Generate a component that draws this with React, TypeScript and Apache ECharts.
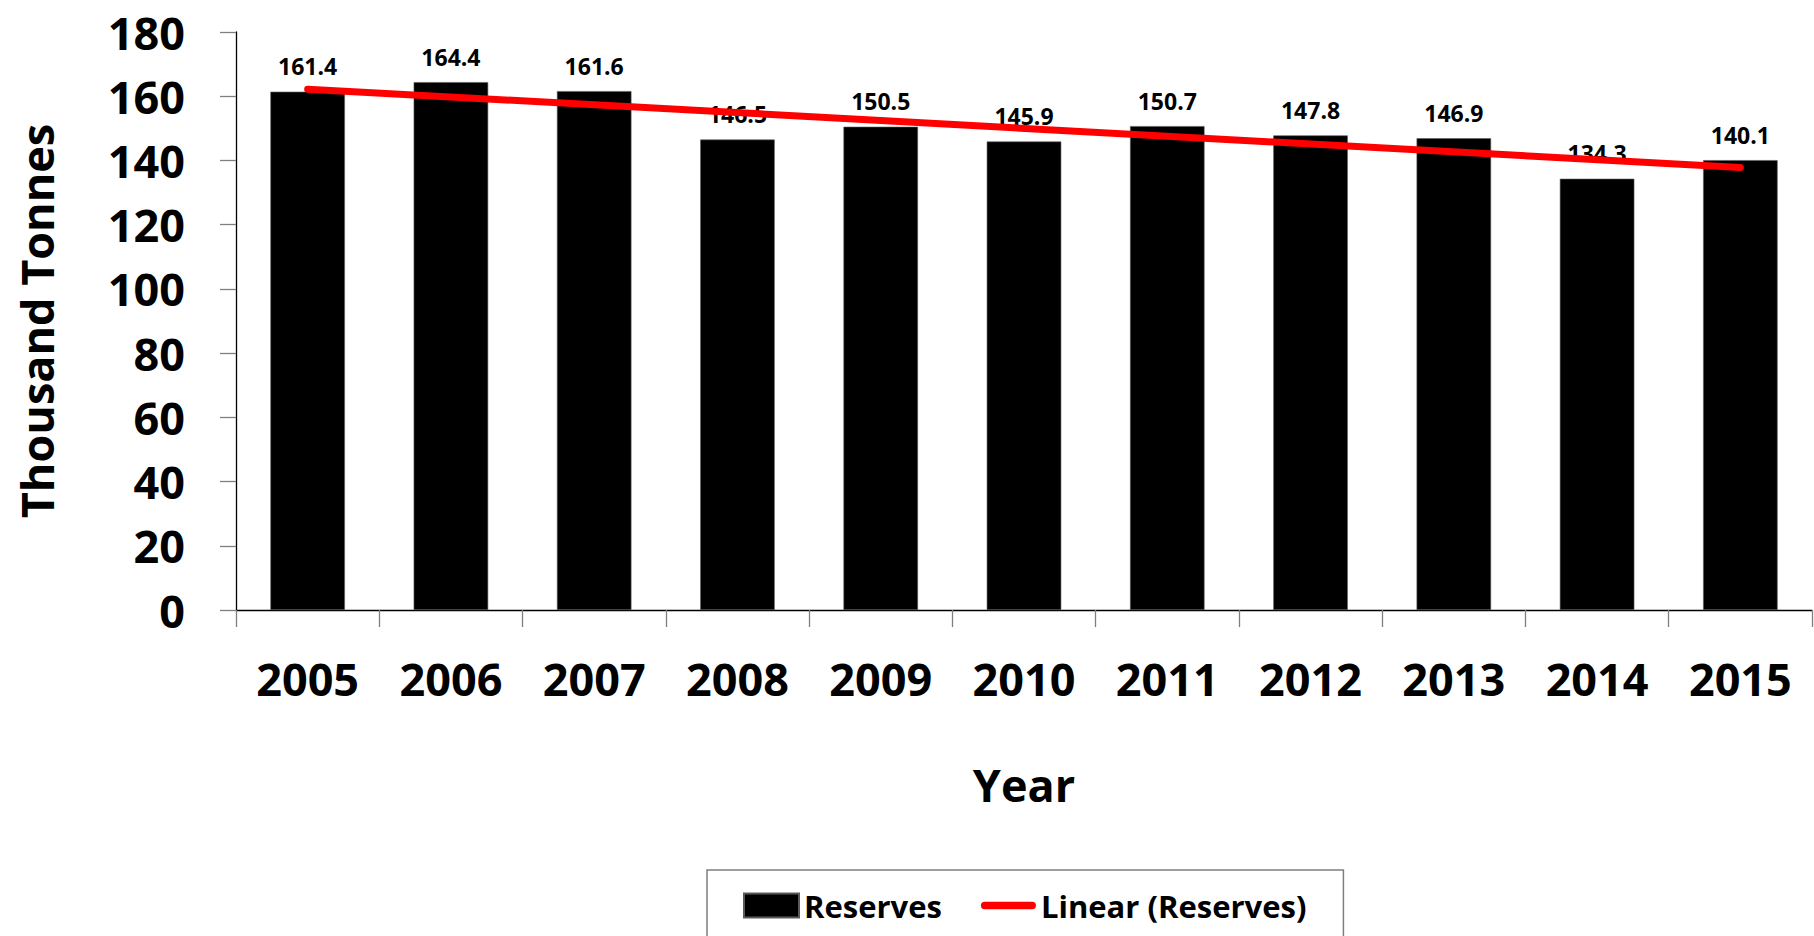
import React, { useEffect, useRef } from "react";
import * as echarts from "echarts";

const years = ["2005", "2006", "2007", "2008", "2009", "2010", "2011", "2012", "2013", "2014", "2015"];
const reserves = [161.4, 164.4, 161.6, 146.5, 150.5, 145.9, 150.7, 147.8, 146.9, 134.3, 140.1];
// Trendline end points (first and last year)
const trendStart = 162.2;
const trendEnd = 137.8;
const yTicks = { min: 0, max: 180, interval: 20 };

const FONT = "'Open Sans', 'Noto Sans', sans-serif";

export default function App() {
  const ref = useRef<HTMLDivElement>(null);

  useEffect(() => {
    if (!ref.current) return;
    const chart = echarts.init(ref.current, null, { renderer: "svg" });
    const trend = years.map((_, i) => (i === 0 ? trendStart : i === years.length - 1 ? trendEnd : null));

    chart.setOption({
      animation: false,
      backgroundColor: "#ffffff",
      textStyle: { fontFamily: FONT, fontWeight: "bold", color: "#000" },
      grid: { left: 236, right: 2, top: 32, bottom: 326, outerBoundsMode: "none" },
      legend: {
        left: 707,
        top: 870,
        orient: "horizontal",
        padding: [20, 37, 40, 36],
        borderColor: "#7f7f7f",
        borderWidth: 1.5,
        itemWidth: 55,
        itemHeight: 24,
        itemGap: 39,
        textStyle: { fontFamily: FONT, fontWeight: "bold", fontSize: 31, color: "#000" },
        data: [
          { name: "Reserves", icon: "rect" },
          {
            name: "Linear (Reserves)",
            icon: "path://M4,0L55,0A4,4,0,0,1,55,8L4,8A4,4,0,0,1,4,0Z",
            itemStyle: { color: "#ff0000" },
          },
        ],
      },
      xAxis: {
        type: "category",
        data: years,
        name: "Year",
        nameLocation: "middle",
        nameGap: 152,
        nameTextStyle: { fontFamily: FONT, fontWeight: "bold", fontSize: 45, color: "#000" },
        axisLine: { show: true, lineStyle: { color: "#000", width: 1.3 } },
        axisTick: { show: true, length: 17, lineStyle: { color: "#7f7f7f", width: 1.3 } },
        axisLabel: { margin: 46, fontFamily: FONT, fontWeight: "bold", fontSize: 45, color: "#000", interval: 0 },
        splitLine: { show: false },
      },
      yAxis: {
        type: "value",
        min: yTicks.min,
        max: yTicks.max,
        interval: yTicks.interval,
        name: "Thousand Tonnes",
        nameLocation: "middle",
        nameGap: 177,
        nameRotate: 90,
        nameTextStyle: { fontFamily: FONT, fontWeight: "bold", fontSize: 45, color: "#000" },
        axisLine: { show: true, lineStyle: { color: "#000", width: 1.3 } },
        axisTick: { show: true, length: 16, lineStyle: { color: "#7f7f7f", width: 1.3 } },
        axisLabel: { margin: 51, fontFamily: FONT, fontWeight: "bold", fontSize: 45, color: "#000" },
        splitLine: { show: false },
      },
      series: [
        {
          name: "Reserves",
          type: "bar",
          data: reserves,
          barCategoryGap: "48%",
          itemStyle: { color: "#000", borderColor: "#5a5a5a", borderWidth: 0.6 },
          label: {
            show: true,
            position: "top",
            distance: 14,
            fontFamily: FONT,
            fontWeight: "bold",
            fontSize: 23,
            color: "#000",
            formatter: (p: any) => Number(p.value).toFixed(1),
          },
          z: 2,
        },
        {
          name: "Linear (Reserves)",
          type: "line",
          data: trend,
          connectNulls: true,
          symbol: "none",
          lineStyle: { color: "#ff0000", width: 7, cap: "round" },
          itemStyle: { color: "#ff0000" },
          z: 3,
        },
      ],
    });

    return () => chart.dispose();
  }, []);

  return (
    <div
      ref={ref}
      style={{ position: "fixed", left: 0, top: 0, width: "1814px", height: "936px", background: "#fff" }}
    />
  );
}
